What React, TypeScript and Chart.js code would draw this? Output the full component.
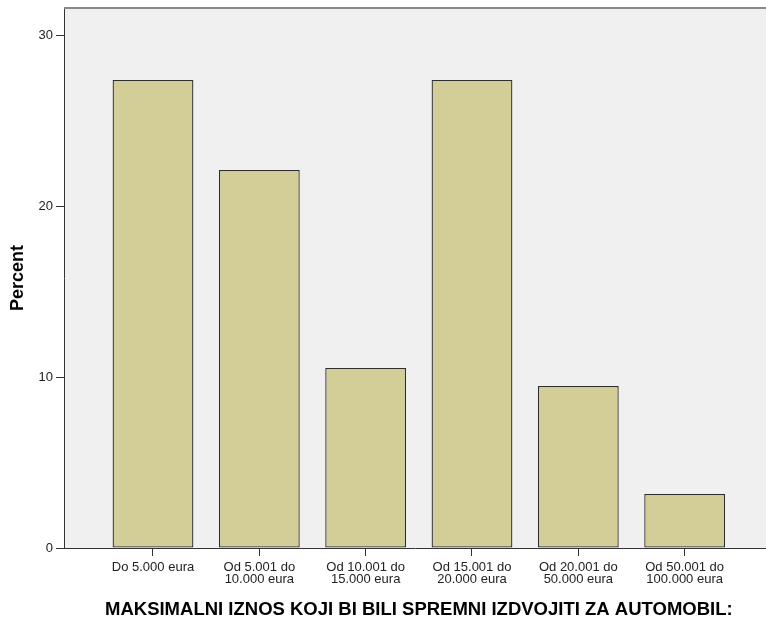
import React, { useEffect, useRef } from "react";
import { Chart, registerables } from "chart.js";

Chart.register(...registerables);

const categories: string[][] = [
  ["Do 5.000 eura"],
  ["Od 5.001 do", "10.000 eura"],
  ["Od 10.001 do", "15.000 eura"],
  ["Od 15.001 do", "20.000 eura"],
  ["Od 20.001 do", "50.000 eura"],
  ["Od 50.001 do", "100.000 eura"],
];
const percentValues: number[] = [27.37, 22.11, 10.53, 27.37, 9.47, 3.16];
const yTicks: number[] = [0, 10, 20, 30];
const xTitle = "MAKSIMALNI IZNOS KOJI BI BILI SPREMNI IZDVOJITI ZA AUTOMOBIL:";
const yTitle = "Percent";

const FONT = 'Arial, "Liberation Sans", sans-serif';

const bgPlugin = {
  id: "spssBackground",
  beforeDraw(chart: any) {
    const { ctx, chartArea } = chart;
    ctx.save();
    ctx.fillStyle = "#f0f0f0";
    ctx.fillRect(chartArea.left, chartArea.top, chartArea.right - chartArea.left, chartArea.bottom - chartArea.top);
    ctx.restore();
  },
  afterDraw(chart: any) {
    const { ctx, chartArea, scales } = chart;
    ctx.save();
    ctx.strokeStyle = "#8a8a8a";
    ctx.lineWidth = 2;
    ctx.beginPath();
    ctx.moveTo(chartArea.left, chartArea.top);
    ctx.lineTo(chartArea.right, chartArea.top);
    ctx.stroke();
    // x-axis title centred on the category band
    const cx = (scales.x.getPixelForValue(0) + scales.x.getPixelForValue(categories.length - 1)) / 2;
    ctx.fillStyle = "#000000";
    ctx.font = `bold 18.5px ${FONT}`;
    ctx.textAlign = "center";
    ctx.textBaseline = "alphabetic";
    ctx.fillText(xTitle, cx, 615);
    ctx.restore();
  },
};

export default function App() {
  const ref = useRef<HTMLCanvasElement | null>(null);

  useEffect(() => {
    if (!ref.current) return;
    const chart = new Chart(ref.current, {
      type: "bar",
      data: {
        datasets: [
          {
            data: percentValues.map((v, i) => ({ x: i, y: v })),
            backgroundColor: "#d3ce97",
            borderColor: "#2e2e2e",
            borderWidth: 1.3,
            borderSkipped: false,
            categoryPercentage: 1,
            barPercentage: 0.76,
          },
        ],
      },
      options: {
        animation: false,
        responsive: true,
        maintainAspectRatio: false,
        layout: { padding: { top: 8, left: 0, right: 0, bottom: 0 } },
        plugins: { legend: { display: false }, tooltip: { enabled: false } },
        scales: {
          x: {
            type: "linear",
            offset: false,
            min: -0.837,
            max: 5.765,
            afterBuildTicks: (axis: any) => {
              axis.ticks = categories.map((_, i) => ({ value: i }));
            },
            afterFit: (axis: any) => {
              axis.height = 71;
              axis.paddingLeft = 0;
              axis.paddingRight = 0;
            },
            ticks: {
              autoSkip: false,
              maxRotation: 0,
              minRotation: 0,
              padding: 5,
              color: "#222222",
              font: { family: FONT, size: 13, lineHeight: 0.95 },
              callback: (value: any) => categories[Math.round(Number(value))] ?? "",
            },
            grid: { offset: false, drawOnChartArea: false, drawTicks: true, tickLength: 8, color: "#333333", lineWidth: 1 },
            border: { display: true, color: "#333333", width: 1 },
            title: { display: false },
          },
          y: {
            type: "linear",
            min: 0,
            max: 31.58,
            afterBuildTicks: (axis: any) => {
              axis.ticks = yTicks.map((v) => ({ value: v }));
            },
            afterFit: (axis: any) => {
              axis.width = 64;
              axis.paddingTop = 0;
              axis.paddingBottom = 0;
            },
            ticks: {
              padding: 3,
              color: "#222222",
              font: { family: FONT, size: 13 },
            },
            grid: { drawOnChartArea: false, drawTicks: true, tickLength: 8, color: "#333333", lineWidth: 1 },
            border: { display: true, color: "#333333", width: 1 },
            title: {
              display: true,
              text: yTitle,
              color: "#000000",
              font: { family: FONT, size: 18, weight: "bold" },
              padding: { top: 7, bottom: 0 },
            },
          },
        },
      },
      plugins: [bgPlugin],
    } as any);
    return () => chart.destroy();
  }, []);

  return (
    <div style={{ position: "absolute", left: 0, top: 0, width: 766, height: 619, background: "#ffffff" }}>
      <canvas ref={ref} />
    </div>
  );
}
